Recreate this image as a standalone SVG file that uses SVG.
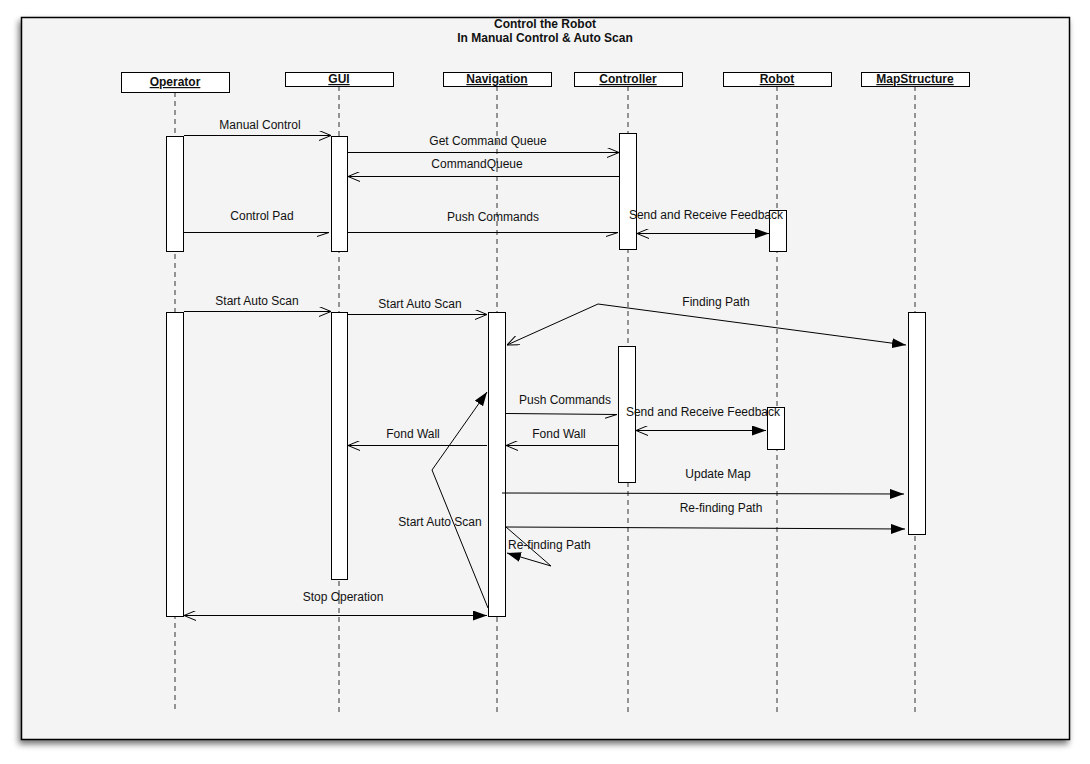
<svg xmlns="http://www.w3.org/2000/svg" width="1090" height="764" viewBox="0 0 1090 764">
  <defs>
    <filter id="shadow" x="-5%" y="-5%" width="110%" height="110%">
      <feGaussianBlur in="SourceAlpha" stdDeviation="3"/>
      <feOffset dx="-2" dy="4" result="b"/>
      <feComponentTransfer><feFuncA type="linear" slope="0.55"/></feComponentTransfer>
      <feMerge><feMergeNode/><feMergeNode in="SourceGraphic"/></feMerge>
    </filter>
    <marker id="open" viewBox="0 0 12 10" refX="12" refY="5" markerWidth="12" markerHeight="10" markerUnits="userSpaceOnUse" orient="auto-start-reverse">
      <path d="M0,0 L12,5 L0,10" fill="none" stroke="#000" stroke-width="1"/>
    </marker>
    <marker id="half" viewBox="0 0 12 10" refX="12" refY="5" markerWidth="12" markerHeight="10" markerUnits="userSpaceOnUse" orient="auto">
      <path d="M0,9 L12,5" fill="none" stroke="#000" stroke-width="1"/>
    </marker>
    <marker id="filled" viewBox="0 0 14 10" refX="14" refY="5" markerWidth="14" markerHeight="10" markerUnits="userSpaceOnUse" orient="auto">
      <path d="M0,0 L14,5 L0,10 Z" fill="#000"/>
    </marker>
  </defs>
  <style>
    text { font-family: "Liberation Sans", Arial, sans-serif; font-size: 12px; fill: #111; }
    .title { font-weight: bold; text-anchor: middle; }
    .head rect { fill: #fff; stroke: #000; stroke-width: 1; }
    .head text { font-weight: bold; text-anchor: middle; text-decoration: underline; }
    .life { stroke: #333; stroke-width: 1; stroke-dasharray: 5 4; fill: none; }
    .act { fill: #fff; stroke: #000; stroke-width: 1; }
    .msg { stroke: #000; stroke-width: 1; fill: none; }
    .lbl { text-anchor: middle; }
  </style>

  <rect width="1090" height="764" fill="#fff"/>
  <!-- frame -->
  <rect x="21.5" y="17.5" width="1048" height="722" fill="#f4f4f4" stroke="#000" stroke-width="1.5" filter="url(#shadow)"/>
  <text class="title" x="545" y="28">Control the Robot</text>
  <text class="title" x="545" y="42">In Manual Control &amp; Auto Scan</text>

  <!-- lifelines -->
  <g id="lifelines">
    <line class="life" x1="175" y1="92" x2="175" y2="713"/>
    <line class="life" x1="339" y1="86" x2="339" y2="713"/>
    <line class="life" x1="497" y1="86" x2="497" y2="713"/>
    <line class="life" x1="628" y1="86" x2="628" y2="713"/>
    <line class="life" x1="777" y1="86" x2="777" y2="713"/>
    <line class="life" x1="915" y1="86" x2="915" y2="713"/>
  </g>

  <g id="operator" class="head">
    <rect x="121.5" y="72.5" width="108" height="20"/>
    <text x="175" y="86">Operator</text>
    <rect class="act" x="166.5" y="136.5" width="17" height="115"/>
    <rect class="act" x="166.5" y="312.5" width="17" height="304"/>
  </g>
  <g id="gui" class="head">
    <rect x="285.5" y="72.5" width="108" height="14"/>
    <text x="339" y="83">GUI</text>
    <rect class="act" x="331.5" y="136.5" width="16" height="115"/>
    <rect class="act" x="331.5" y="312.5" width="16" height="267"/>
  </g>
  <g id="navigation" class="head">
    <rect x="443.5" y="72.5" width="108" height="14"/>
    <text x="497" y="83">Navigation</text>
    <rect class="act" x="488.5" y="312.5" width="17" height="304"/>
  </g>
  <g id="controller" class="head">
    <rect x="574.5" y="72.5" width="108" height="14"/>
    <text x="628" y="83">Controller</text>
    <rect class="act" x="619.5" y="133.5" width="17" height="116"/>
    <rect class="act" x="618.5" y="346.5" width="17" height="136"/>
  </g>
  <g id="robot" class="head">
    <rect x="723.5" y="72.5" width="108" height="14"/>
    <text x="777" y="83">Robot</text>
    <rect class="act" x="769.5" y="210.5" width="17" height="41"/>
    <rect class="act" x="767.5" y="407.5" width="17" height="42"/>
  </g>
  <g id="mapstructure" class="head">
    <rect x="861.5" y="72.5" width="108" height="14"/>
    <text x="915" y="83">MapStructure</text>
    <rect class="act" x="908.5" y="312.5" width="17" height="222"/>
  </g>

  <!-- messages -->
  <g id="connectors">
    <line class="msg" x1="184" y1="135.5" x2="331" y2="135.5" marker-end="url(#open)"/>
    <line class="msg" x1="348" y1="152.5" x2="619" y2="152.5" marker-end="url(#open)"/>
    <line class="msg" x1="619" y1="176.5" x2="348" y2="176.5" stroke="#333" marker-end="url(#open)"/>
    <line class="msg" x1="184" y1="232.5" x2="329" y2="232.5" marker-end="url(#half)"/>
    <line class="msg" x1="348" y1="232.5" x2="618" y2="232.5" marker-end="url(#half)"/>
    <line class="msg" x1="637" y1="233.5" x2="769" y2="233.5" marker-start="url(#open)" marker-end="url(#filled)"/>

    <line class="msg" x1="184" y1="311.5" x2="331" y2="311.5" marker-end="url(#open)"/>
    <line class="msg" x1="348" y1="314.5" x2="487" y2="314.5" marker-end="url(#open)"/>
    <polyline class="msg" points="507,345 598,304 906,345" marker-start="url(#open)" marker-end="url(#filled)"/>

    <line class="msg" x1="506" y1="413.5" x2="617" y2="414.5" stroke="#444" marker-end="url(#half)"/>
    <line class="msg" x1="636" y1="430.5" x2="766" y2="430.5" marker-start="url(#open)" marker-end="url(#filled)"/>
    <line class="msg" x1="618" y1="445.5" x2="506" y2="445.5" marker-end="url(#open)"/>
    <line class="msg" x1="487" y1="445.5" x2="348" y2="445.5" stroke="#444" marker-end="url(#open)"/>
    <line class="msg" x1="502" y1="493" x2="904" y2="494" stroke="#444" marker-end="url(#filled)"/>
    <line class="msg" x1="506" y1="527" x2="905" y2="529" marker-end="url(#filled)"/>
    <polyline class="msg" points="506,527 551,566 507,553" marker-end="url(#filled)"/>
    <polyline class="msg" points="488,608 432,470 487,392" marker-end="url(#filled)"/>
    <line class="msg" x1="184" y1="615.5" x2="487" y2="615.5" marker-start="url(#open)" marker-end="url(#filled)"/>
  </g>

  <!-- message labels -->
  <g id="labels">
    <text class="lbl" x="260" y="129">Manual Control</text>
    <text class="lbl" x="488" y="145">Get Command Queue</text>
    <text class="lbl" x="477" y="168">CommandQueue</text>
    <text class="lbl" x="262" y="220">Control Pad</text>
    <text class="lbl" x="493" y="221">Push Commands</text>
    <text class="lbl" x="706" y="219">Send and Receive Feedback</text>
    <text class="lbl" x="257" y="305">Start Auto Scan</text>
    <text class="lbl" x="420" y="308">Start Auto Scan</text>
    <text class="lbl" x="716" y="306">Finding Path</text>
    <text class="lbl" x="565" y="404">Push Commands</text>
    <text class="lbl" x="703" y="416">Send and Receive Feedback</text>
    <text class="lbl" x="559" y="438">Fond Wall</text>
    <text class="lbl" x="413" y="438">Fond Wall</text>
    <text class="lbl" x="718" y="478">Update Map</text>
    <text class="lbl" x="721" y="512">Re-finding Path</text>
    <text x="508" y="549">Re-finding Path</text>
    <text class="lbl" x="440" y="526">Start Auto Scan</text>
    <text class="lbl" x="343" y="601">Stop Operation</text>
  </g>
</svg>
